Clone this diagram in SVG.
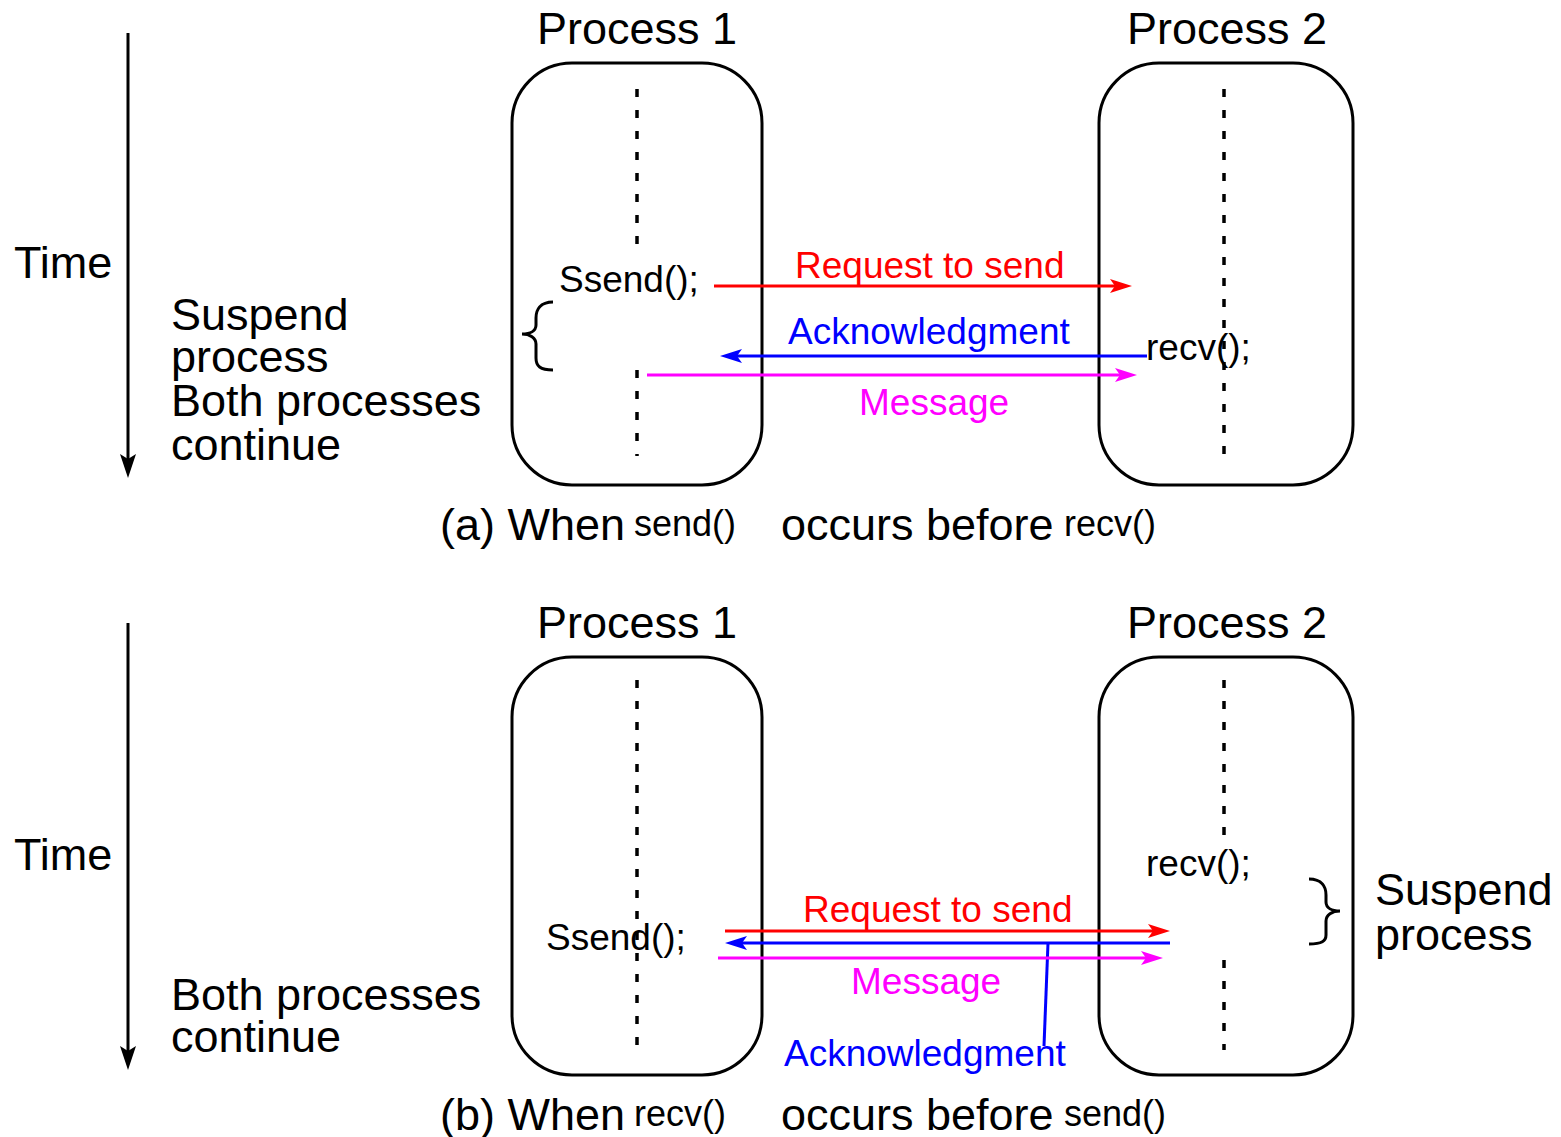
<svg xmlns="http://www.w3.org/2000/svg" width="1561" height="1137" viewBox="0 0 1561 1137">
<style>
text{font-family:"Liberation Sans",Arial,sans-serif;fill:#000}
.big{font-size:45px}
.nt{font-size:45px}
.mid{font-size:37px}
.sm{font-size:36px}
.box{fill:none;stroke:#000;stroke-width:3}
.dash{stroke:#000;stroke-width:3.5;stroke-dasharray:8 13;fill:none}
.brace{fill:none;stroke:#000;stroke-width:3}
.red{fill:#ff0000}
.blue{fill:#0000ff}
.mag{fill:#ff00ff}
.lr{stroke:#ff0000;stroke-width:3;fill:none}
.lb{stroke:#0000ff;stroke-width:3;fill:none}
.lm{stroke:#ff00ff;stroke-width:3;fill:none}
.lk{stroke:#000;stroke-width:3;fill:none}
</style>
<defs>
<marker id="ar" viewBox="0 0 22 14" refX="8" refY="7" markerWidth="22" markerHeight="14" markerUnits="userSpaceOnUse" orient="auto"><path d="M0,0 L22,7 L0,14 L5,7 z" fill="#ff0000"/></marker>
<marker id="ab" viewBox="0 0 22 14" refX="8" refY="7" markerWidth="22" markerHeight="14" markerUnits="userSpaceOnUse" orient="auto"><path d="M0,0 L22,7 L0,14 L5,7 z" fill="#0000ff"/></marker>
<marker id="am" viewBox="0 0 22 14" refX="8" refY="7" markerWidth="22" markerHeight="14" markerUnits="userSpaceOnUse" orient="auto"><path d="M0,0 L22,7 L0,14 L5,7 z" fill="#ff00ff"/></marker>
<marker id="ak" viewBox="0 0 24 16" refX="8" refY="8" markerWidth="24" markerHeight="16" markerUnits="userSpaceOnUse" orient="auto"><path d="M0,0 L24,8 L0,16 L5,8 z" fill="#000"/></marker>
</defs>

<!-- Panel (a) -->
<g id="time-a">
<line class="lk" x1="128" y1="33" x2="128" y2="462" marker-end="url(#ak)"/>
<text class="big" x="14" y="278">Time</text>
</g>
<g id="notes-a">
<text class="nt" x="171" y="330">Suspend</text>
<text class="nt" x="171" y="372">process</text>
<text class="nt" x="171" y="416">Both processes</text>
<text class="nt" x="171" y="460">continue</text>
</g>
<g id="process1-a">
<text class="big" x="637" y="44" text-anchor="middle">Process 1</text>
<rect class="box" x="512" y="63" width="250" height="422" rx="60" ry="60"/>
<line class="dash" x1="637" y1="89" x2="637" y2="246"/>
<line class="dash" x1="637" y1="370" x2="637" y2="456"/>
<text class="mid" x="559" y="292">Ssend();</text>
<path class="brace" d="M553,302 C540,302 536,310 536,318 L536,325 C536,331 530,334 522,334 C530,334 536,338 536,344 L536,358 C536,366 540,370 553,370"/>
</g>
<g id="process2-a">
<text class="big" x="1227" y="44" text-anchor="middle">Process 2</text>
<rect class="box" x="1099" y="63" width="254" height="422" rx="60" ry="60"/>
<line class="dash" x1="1224" y1="89" x2="1224" y2="456"/>
<text class="mid" x="1146" y="360">recv();</text>
</g>
<g id="connectors-a">
<line class="lr" x1="714" y1="286" x2="1118" y2="286" marker-end="url(#ar)"/>
<text class="mid red" x="795" y="278">Request to send</text>
<line class="lb" x1="1147" y1="356" x2="734" y2="356" marker-end="url(#ab)"/>
<text class="mid blue" x="788" y="344">Acknowledgment</text>
<line class="lm" x1="647" y1="375" x2="1123" y2="375" marker-end="url(#am)"/>
<text class="mid mag" x="859" y="415">Message</text>
</g>
<g id="caption-a">
<text class="big" x="440" y="540">(a) When</text>
<text class="sm" x="634" y="536">send()</text>
<text class="big" x="781" y="540">occurs before</text>
<text class="sm" x="1064" y="536">recv()</text>
</g>

<!-- Panel (b) -->
<g id="time-b">
<line class="lk" x1="128" y1="623" x2="128" y2="1054" marker-end="url(#ak)"/>
<text class="big" x="14" y="870">Time</text>
</g>
<g id="notes-b">
<text class="nt" x="171" y="1010">Both processes</text>
<text class="nt" x="171" y="1052">continue</text>
</g>
<g id="process1-b">
<text class="big" x="637" y="638" text-anchor="middle">Process 1</text>
<rect class="box" x="512" y="657" width="250" height="418" rx="60" ry="60"/>
<line class="dash" x1="637" y1="680" x2="637" y2="1050"/>
<text class="mid" x="546" y="950">Ssend();</text>
</g>
<g id="process2-b">
<text class="big" x="1227" y="638" text-anchor="middle">Process 2</text>
<rect class="box" x="1099" y="657" width="254" height="418" rx="60" ry="60"/>
<line class="dash" x1="1224" y1="680" x2="1224" y2="846"/>
<line class="dash" x1="1224" y1="960" x2="1224" y2="1050"/>
<text class="mid" x="1146" y="876">recv();</text>
<path class="brace" d="M1309,879 C1322,879 1326,887 1326,895 L1326,902 C1326,908 1332,911 1340,911 C1332,911 1326,915 1326,921 L1326,935 C1326,941 1322,944 1309,944"/>
</g>
<g id="notes-b2">
<text class="big" x="1375" y="905">Suspend</text>
<text class="big" x="1375" y="950">process</text>
</g>
<g id="connectors-b">
<line class="lr" x1="725" y1="931" x2="1156" y2="931" marker-end="url(#ar)"/>
<text class="mid red" x="803" y="922">Request to send</text>
<line class="lb" x1="1170" y1="943" x2="739" y2="943" marker-end="url(#ab)"/>
<line class="lb" x1="1048" y1="943" x2="1044" y2="1046"/>
<line class="lm" x1="718" y1="958" x2="1149" y2="958" marker-end="url(#am)"/>
<text class="mid mag" x="851" y="994">Message</text>
<text class="mid blue" x="784" y="1066">Acknowledgment</text>
</g>
<g id="caption-b">
<text class="big" x="440" y="1130">(b) When</text>
<text class="sm" x="634" y="1126">recv()</text>
<text class="big" x="781" y="1130">occurs before</text>
<text class="sm" x="1064" y="1126">send()</text>
</g>
</svg>
